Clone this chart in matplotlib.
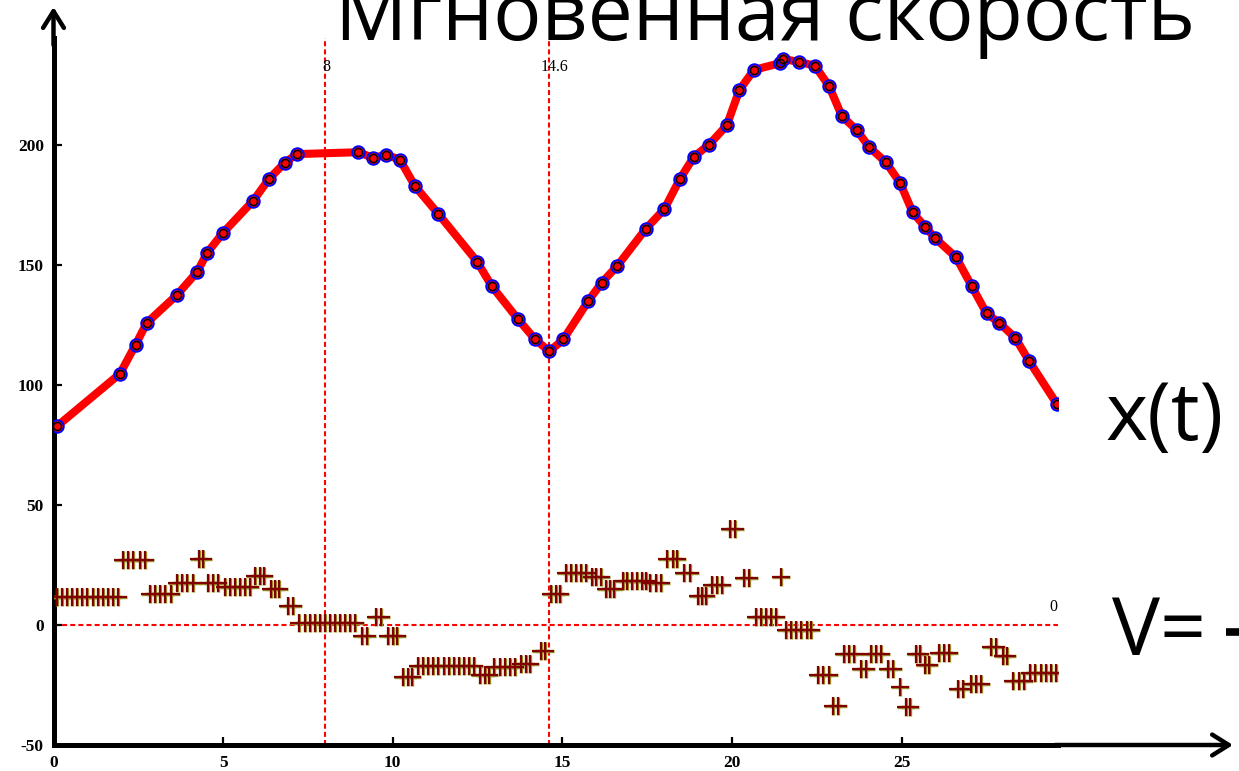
import matplotlib
matplotlib.use("Agg")
import matplotlib.pyplot as plt
from matplotlib.lines import Line2D

# ---------------------------------------------------------------- data ---- #
# position samples x(t) (circles on the red curve)
pos_t = [0.10, 1.96, 2.42, 2.75, 3.63, 4.24, 4.53, 4.99, 5.89, 6.36, 6.82,
         7.17, 8.99, 9.43, 9.80, 10.21, 10.66, 11.35, 12.49, 12.92, 13.70,
         14.20, 14.62, 15.03, 15.77, 16.16, 16.62, 17.47, 18.01, 18.47,
         18.88, 19.33, 19.85, 20.22, 20.65, 21.42, 21.52, 21.99, 22.45,
         22.87, 23.24, 23.68, 24.05, 24.54, 24.96, 25.33, 25.69, 25.99,
         26.61, 27.07, 27.51, 27.88, 28.35, 28.77, 29.58]
pos_x = [82.8, 104.7, 116.8, 125.9, 137.4, 147.2, 155.1, 163.3, 176.8, 186.0,
         192.6, 196.2, 197.0, 194.6, 196.0, 193.9, 182.8, 171.2, 151.4, 141.2,
         127.3, 119.0, 114.0, 119.0, 135.1, 142.6, 149.6, 165.2, 173.3, 185.9,
         195.1, 200.2, 208.2, 222.9, 231.3, 234.1, 235.8, 234.6, 233.0, 224.4,
         212.1, 206.2, 199.1, 192.8, 184.2, 171.9, 166.0, 161.2, 153.2, 141.2,
         129.8, 125.9, 119.7, 109.8, 92.1]

# velocity samples V(t) (the "+" marks)
vel_t = [0.10, 0.25, 0.40, 0.55, 0.70, 0.85, 1.00, 1.15, 1.30, 1.45, 1.60, 1.75, 1.90,
         2.05, 2.20, 2.35, 2.55, 2.70,
         2.85, 3.00, 3.15, 3.30, 3.45,
         3.65, 3.80, 3.95, 4.10,
         4.30, 4.42,
         4.55, 4.70, 4.85,
         5.05, 5.20, 5.35, 5.50, 5.65, 5.80,
         5.95, 6.10, 6.22,
         6.40, 6.52, 6.65,
         6.90, 7.05,
         7.25, 7.40, 7.55, 7.70, 7.85, 8.00, 8.15, 8.30, 8.45, 8.60, 8.75, 8.90,
         9.10, 9.25,
         9.50, 9.65,
         9.85, 10.00, 10.12,
         10.30, 10.45, 10.58,
         10.75, 10.90, 11.05, 11.20, 11.35, 11.50, 11.65, 11.80, 11.95, 12.10, 12.25, 12.40,
         12.57, 12.72, 12.85,
         13.00, 13.15, 13.30, 13.45, 13.60,
         13.78, 13.92, 14.06,
         14.38, 14.50,
         14.68, 14.80, 14.92,
         15.10, 15.25, 15.40, 15.55, 15.70,
         15.88, 16.00, 16.15,
         16.28, 16.40, 16.52,
         16.78, 16.92, 17.06, 17.20, 17.34, 17.48,
         17.60, 17.75, 17.90,
         18.10, 18.25, 18.38,
         18.60, 18.75,
         19.00, 19.12, 19.25,
         19.42, 19.55, 19.70,
         19.95, 20.10,
         20.35, 20.50,
         20.70, 20.85, 21.00, 21.15, 21.30,
         21.45,
         21.60, 21.75, 21.90, 22.05, 22.20, 22.32,
         22.55, 22.70, 22.85,
         22.98, 23.12,
         23.30, 23.45, 23.60,
         23.82, 23.96,
         24.10, 24.25, 24.40,
         24.60, 24.75,
         24.96,
         25.12, 25.25,
         25.42, 25.55,
         25.68, 25.82,
         26.10, 26.25, 26.40,
         26.68, 26.82,
         27.05, 27.20, 27.35,
         27.65, 27.80,
         28.00, 28.12,
         28.30, 28.45, 28.60,
         28.80, 28.95, 29.10, 29.25, 29.40, 29.55]
vel_v = [11.7, 11.7, 11.7, 11.7, 11.7, 11.7, 11.7, 11.7, 11.7, 11.7, 11.7, 11.7, 11.7,
         27.0, 27.0, 27.0, 27.0, 27.0,
         13.0, 13.0, 13.0, 13.0, 13.0,
         17.5, 17.5, 17.5, 17.5,
         27.5, 27.5,
         17.5, 17.5, 17.5,
         16.0, 16.0, 16.0, 16.0, 16.0, 16.0,
         20.5, 20.5, 20.5,
         15.0, 15.0, 15.0,
         8.0, 8.0,
         1.0, 1.0, 1.0, 1.0, 1.0, 1.0, 1.0, 1.0, 1.0, 1.0, 1.0, 1.0,
         -4.5, -4.5,
         3.5, 3.5,
         -4.5, -4.5, -4.5,
         -21.5, -21.5, -21.5,
         -17.0, -17.0, -17.0, -17.0, -17.0, -17.0, -17.0, -17.0, -17.0, -17.0, -17.0, -17.0,
         -21.0, -21.0, -21.0,
         -17.4, -17.4, -17.4, -17.4, -17.4,
         -16.3, -16.3, -16.3,
         -11.0, -11.0,
         13.0, 13.0, 13.0,
         21.8, 21.8, 21.8, 21.8, 21.8,
         20.0, 20.0, 20.0,
         15.0, 15.0, 15.0,
         18.5, 18.5, 18.5, 18.5, 18.5, 18.5,
         17.5, 17.5, 17.5,
         27.5, 27.5, 27.5,
         21.5, 21.5,
         12.0, 12.0, 12.0,
         16.5, 16.5, 16.5,
         40.0, 40.0,
         19.4, 19.4,
         3.5, 3.5, 3.5, 3.5, 3.5,
         20.0,
         -2.0, -2.0, -2.0, -2.0, -2.0, -2.0,
         -20.8, -20.8, -20.8,
         -33.6, -33.6,
         -12.2, -12.2, -12.2,
         -18.5, -18.5,
         -12.2, -12.2, -12.2,
         -18.5, -18.5,
         -26.0,
         -34.0, -34.0,
         -12.2, -12.2,
         -16.5, -16.5,
         -11.5, -11.5, -11.5,
         -26.8, -26.8,
         -24.5, -24.5, -24.5,
         -9.0, -9.0,
         -13.0, -13.0,
         -23.5, -23.5, -23.5,
         -20.0, -20.0, -20.0, -20.0, -20.0, -20.0]

x_ticks = [0, 5, 10, 15, 20, 25]
y_ticks = [-50, 0, 50, 100, 150, 200]
mark_t = [8, 14.6]
mark_lbl = ["8", "14.6"]

TITLE = "Мгновенная скорость"

# -------------------------------------------------------------- layout ---- #
W, H, DPI = 1239, 771, 100
PX_X0, PX_PER_T = 53.5, 33.92      # pixel column of t=0, pixels per unit t
PX_Y0, PX_PER_V = 625.0, 2.4       # pixel row of value 0, pixels per unit
T_MAX = 29.6
V_MIN, V_MAX = -50, 244.6

RED = "#ff0000"
PLUS_DK = "#800000"
PLUS_LT = "#9a8c2a"

plt.rcParams.update({
    "font.family": ["Liberation Serif", "DejaVu Serif"],
    "axes.unicode_minus": False,
})


def main():
    fig = plt.figure(figsize=(W / DPI, H / DPI), dpi=DPI)
    fig.patch.set_facecolor("white")

    left = PX_X0 / W
    right = (PX_X0 + T_MAX * PX_PER_T) / W
    bot = 1 - (PX_Y0 - V_MIN * PX_PER_V) / H
    top = 1 - (PX_Y0 - V_MAX * PX_PER_V) / H
    ax = fig.add_axes([left, bot, right - left, top - bot])
    ax.set_xlim(0, T_MAX)
    ax.set_ylim(V_MIN, V_MAX)

    # reference lines
    dash = (0, (2.4, 1.5))
    for t in mark_t:
        ax.axvline(t, color=RED, lw=1.5, ls=dash, zorder=1)
    ax.axhline(0, color=RED, lw=1.5, ls=dash, zorder=1)
    for t, lbl in zip(mark_t, mark_lbl):
        ax.text(t + (0.05 if len(lbl) == 1 else 0.18), 232.5, lbl,
                ha="center", va="center", fontsize=11.5)
    ax.text(29.48, 7.5, "0", ha="center", va="center", fontsize=11.5)

    # x(t): thick red curve with circle samples
    ax.plot(pos_t, pos_x, color=RED, lw=5.8, solid_joinstyle="round",
            solid_capstyle="round", zorder=3)
    ax.plot(pos_t, pos_x, ls="none", marker="o", ms=9, mfc=RED, mec="blue",
            mew=1.4, zorder=4)
    ax.plot(pos_t, pos_x, ls="none", marker="o", ms=5.8, mfc="none",
            mec="black", mew=1.1, zorder=5)

    # V(t): "+" marks
    ax.plot(vel_t, vel_v, ls="none", marker="+", ms=13.5, mew=2.4,
            color=PLUS_LT, zorder=3)
    ax.plot(vel_t, vel_v, ls="none", marker="+", ms=13.5, mew=1.5,
            color=PLUS_DK, zorder=4)

    # axes
    for sp in ("top", "right"):
        ax.spines[sp].set_visible(False)
    for sp in ("left", "bottom"):
        ax.spines[sp].set_linewidth(3.6)
        ax.spines[sp].set_color("black")
    ax.set_xticks(x_ticks)
    ax.set_yticks(y_ticks)
    ax.tick_params(direction="in", length=6, width=1.6, labelsize=12.5,
                   pad=7)
    for lab in ax.get_xticklabels() + ax.get_yticklabels():
        lab.set_fontweight("bold")

    # arrow heads extending the axes
    arrow = dict(arrowstyle="->, head_length=1.2, head_width=0.75",
                 lw=3.2, color="black", shrinkA=0, shrinkB=0)
    ax.annotate("", xy=(1233 / W, 0), xytext=(right - 0.002, 0),
                xycoords=("figure fraction", "axes fraction"),
                textcoords=("figure fraction", "axes fraction"),
                arrowprops=arrow, annotation_clip=False)
    ax.annotate("", xy=(0, 1 - 7 / H), xytext=(0, 0.99),
                xycoords=("axes fraction", "figure fraction"),
                textcoords=("axes fraction", "axes fraction"),
                arrowprops=arrow, annotation_clip=False)

    # slide text
    big = dict(fontsize=58, family=["Open Sans", "DejaVu Sans"],
               va="baseline", ha="left", color="black")
    fig.text(335 / W, 1 - 40 / H, TITLE, **big)
    fig.text(1105 / W, 1 - 440 / H, "x(t)", **big)
    fig.text(1112 / W, 1 - 655 / H, "V=", **big)
    fig.add_artist(Line2D([1226 / W, 1.0], [1 - 632 / H] * 2, color="black",
                          lw=5.5, solid_capstyle="butt",
                          transform=fig.transFigure))

    fig.savefig("out.png", dpi=DPI, facecolor="white")


if __name__ == "__main__":
    main()
